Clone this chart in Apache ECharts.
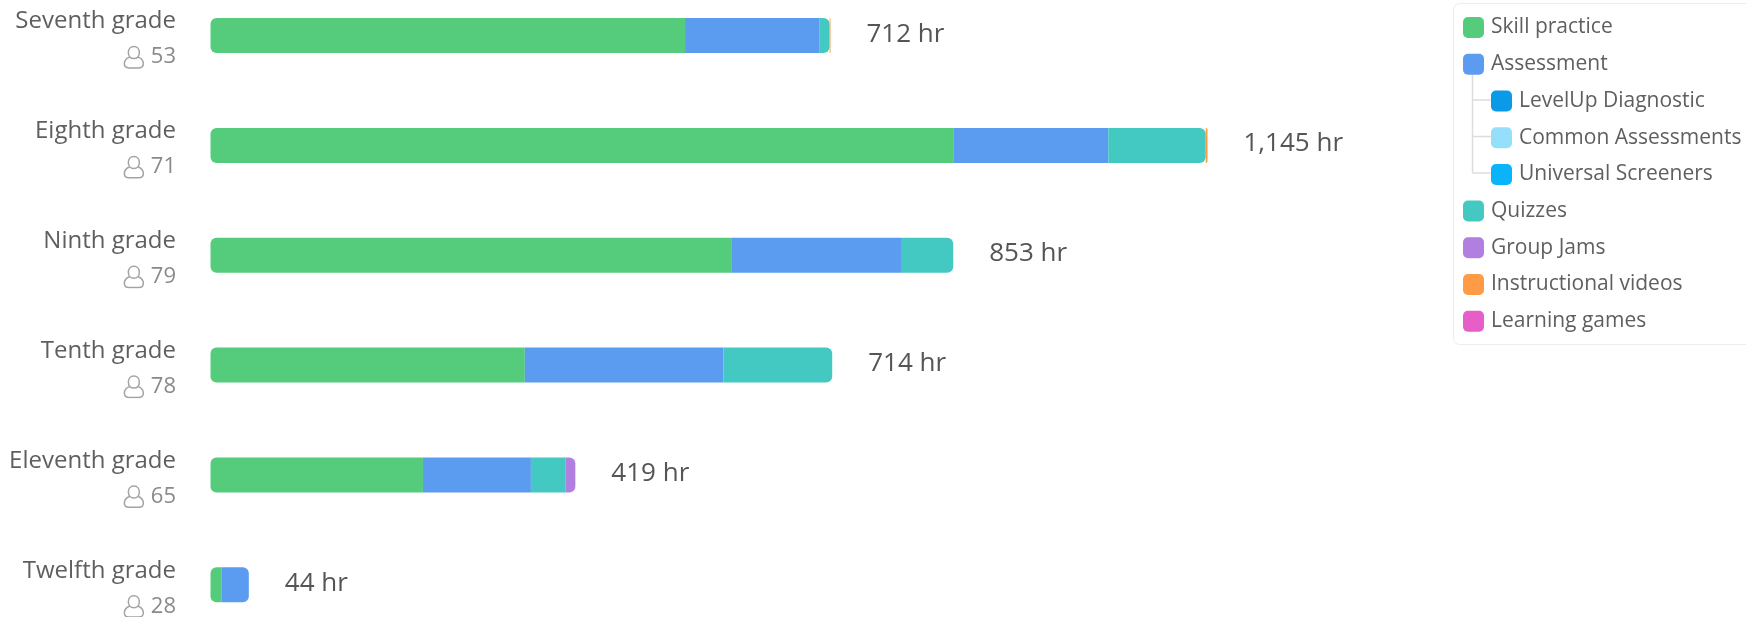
<!DOCTYPE html>
<html>
<head>
<meta charset="utf-8" />
<style>
  html, body { margin: 0; padding: 0; background: #fff; }
  #main { width: 1746px; height: 617px; }
</style>
<script src="https://cdn.jsdelivr.net/npm/echarts@6/dist/echarts.min.js"></script>
</head>
<body>
<div id="main"></div>
<script>
var grades = ["Seventh grade", "Eighth grade", "Ninth grade", "Tenth grade", "Eleventh grade", "Twelfth grade"];
var students = [53, 71, 79, 78, 65, 28];
var totals = [712, 1145, 853, 714, 419, 44];

// hours per grade
var skillPractice = [545, 853, 598, 361, 244, 13];
var assessment = [154, 178, 195, 228, 124, 31];
var levelUp = [];
var commonAssessments = [];
var universalScreeners = [];
var quizzes = [12, 112, 60, 125, 40, 0];
var groupJams = [0, 0, 0, 0, 11, 0];
var videos = [1, 2, 0, 0, 0, 0];
var games = [0, 0, 0, 0, 0, 0];

var colors = {
  "Skill practice": "#55cc7c",
  "Assessment": "#5b9cf0",
  "LevelUp Diagnostic": "#0a9ae8",
  "Common Assessments": "#96dffa",
  "Universal Screeners": "#0ab4fa",
  "Quizzes": "#44c9c2",
  "Group Jams": "#b07fe0",
  "Instructional videos": "#ff9a45",
  "Learning games": "#e85ec8"
};

var stacked = [
  ["Skill practice", skillPractice],
  ["Assessment", assessment],
  ["Quizzes", quizzes],
  ["Group Jams", groupJams],
  ["Instructional videos", videos],
  ["Learning games", games]
];

var userIcon = "data:image/svg+xml;utf8," + encodeURIComponent(
  '<svg xmlns="http://www.w3.org/2000/svg" width="22" height="24" viewBox="0 0 22 24">' +
  '<path d="M11 1.500c3.400 0 5.500 2.600 5.500 6s-2.100 6-5.500 6-5.500-2.600-5.500-6 2.100-6 5.500-6z' +
  'M6.500 12c-3 1.300-5 3.400-5 6.500 0 2.800 1.700 4.300 4.500 4.300h10c2.800 0 4.500-1.500 4.500-4.300 0-3.100-2-5.200-5-6.500"' +
  ' fill="none" stroke="#a3a3a3" stroke-width="1.500"/></svg>'
);

// round the outer ends of each stacked bar
function barData(values, seriesIndex) {
  return values.map(function (v, i) {
    var first = seriesIndex === 0;
    var rest = 0;
    for (var s = seriesIndex + 1; s < stacked.length; s++) rest += stacked[s][1][i];
    var r = 6;
    var last = v > 0 && rest <= 2;
    var left = first ? r : 0;
    var right = last ? Math.min(r, v * 0.871) : 0;
    return { value: v, itemStyle: { borderRadius: [left, right, right, left] } };
  });
}

var series = stacked.map(function (item, idx) {
  return {
    name: item[0],
    type: "bar",
    stack: "hours",
    barWidth: 35,
    itemStyle: { color: colors[item[0]] },
    data: barData(item[1], idx)
  };
});

// the assessment types only show in the legend
["LevelUp Diagnostic", "Common Assessments", "Universal Screeners"].forEach(function (name, i) {
  series.push({
    name: name,
    type: "bar",
    stack: "hours",
    barWidth: 35,
    itemStyle: { color: colors[name] },
    data: [levelUp, commonAssessments, universalScreeners][i]
  });
});

// total label on the end of each bar
series.push({
  name: "total",
  type: "bar",
  stack: "hours",
  barWidth: 35,
  itemStyle: { color: "transparent" },
  label: {
    show: true,
    position: "right",
    distance: 36,
    offset: [0, -1.5],
    fontFamily: "Open Sans",
    fontSize: 26,
    color: "#555",
    formatter: function (p) {
      return totals[p.dataIndex].toLocaleString("en-US") + " hr";
    }
  },
  data: grades.map(function () { return 0; })
});

function legendBlock(names, left, top) {
  return {
    orient: "vertical",
    left: left,
    top: top,
    padding: 0,
    itemWidth: 21,
    itemHeight: 21,
    itemGap: 13.75,
    icon: "path://M5 0H16A5 5 0 0 1 21 5V16A5 5 0 0 1 16 21H5A5 5 0 0 1 0 16V5A5 5 0 0 1 5 0Z",
    selectedMode: false,
    textStyle: { fontFamily: "Open Sans", fontSize: 21, lineHeight: 21, color: "#5f5f5f", padding: [2, 0, 0, 2] },
    data: names
  };
}

var line = { stroke: "#dcdcdc", lineWidth: 1.5 };

var myChart = echarts.init(document.getElementById("main"));
myChart.setOption({
  backgroundColor: "#fff",
  animation: false,
  grid: { left: 210.5, top: -19.3, width: 997, height: 659, outerBoundsMode: "none" },
  xAxis: { type: "value", min: 0, max: 1145, show: false },
  yAxis: {
    type: "category",
    inverse: true,
    data: grades,
    axisLine: { show: false },
    axisTick: { show: false },
    axisLabel: {
      margin: 34.5,
      align: "right",
      padding: [7, 0, 0, 0],
      formatter: function (value, i) {
        return "{name|" + value + "}\n{icon|}{count|" + students[i] + "}";
      },
      rich: {
        name: { fontFamily: "Open Sans", fontSize: 24, color: "#5f5f5f", lineHeight: 36, padding: [1, 0, 0, 0], align: "right" },
        icon: {
          width: 22,
          height: 24,
          backgroundColor: { image: userIcon },
          align: "right"
        },
        count: { fontFamily: "Open Sans", fontSize: 22, color: "#8a8a8a", lineHeight: 36, padding: [0, 0, 0, 6], align: "right" }
      }
    }
  },
  legend: [
    legendBlock(["Skill practice", "Assessment"], 1463, 16),
    legendBlock(["LevelUp Diagnostic", "Common Assessments", "Universal Screeners"], 1491, 89.500),
    legendBlock(["Quizzes", "Group Jams", "Instructional videos", "Learning games"], 1463, 199.500)
  ],
  // legend frame and the tree lines under Assessment
  graphic: [
    {
      type: "rect",
      z: -1,
      shape: { x: 1453.500, y: 3.500, width: 300, height: 341, r: 6 },
      style: { fill: "#fff", stroke: "#ececec", lineWidth: 1 }
    },
    { type: "line", shape: { x1: 1472.500, y1: 74, x2: 1472.500, y2: 173 }, style: line },
    { type: "line", shape: { x1: 1472.500, y1: 100, x2: 1492, y2: 100 }, style: line },
    { type: "line", shape: { x1: 1472.500, y1: 136.500, x2: 1492, y2: 136.500 }, style: line },
    { type: "line", shape: { x1: 1472.500, y1: 173, x2: 1492, y2: 173 }, style: line }
  ],
  series: series
});
</script>
</body>
</html>
